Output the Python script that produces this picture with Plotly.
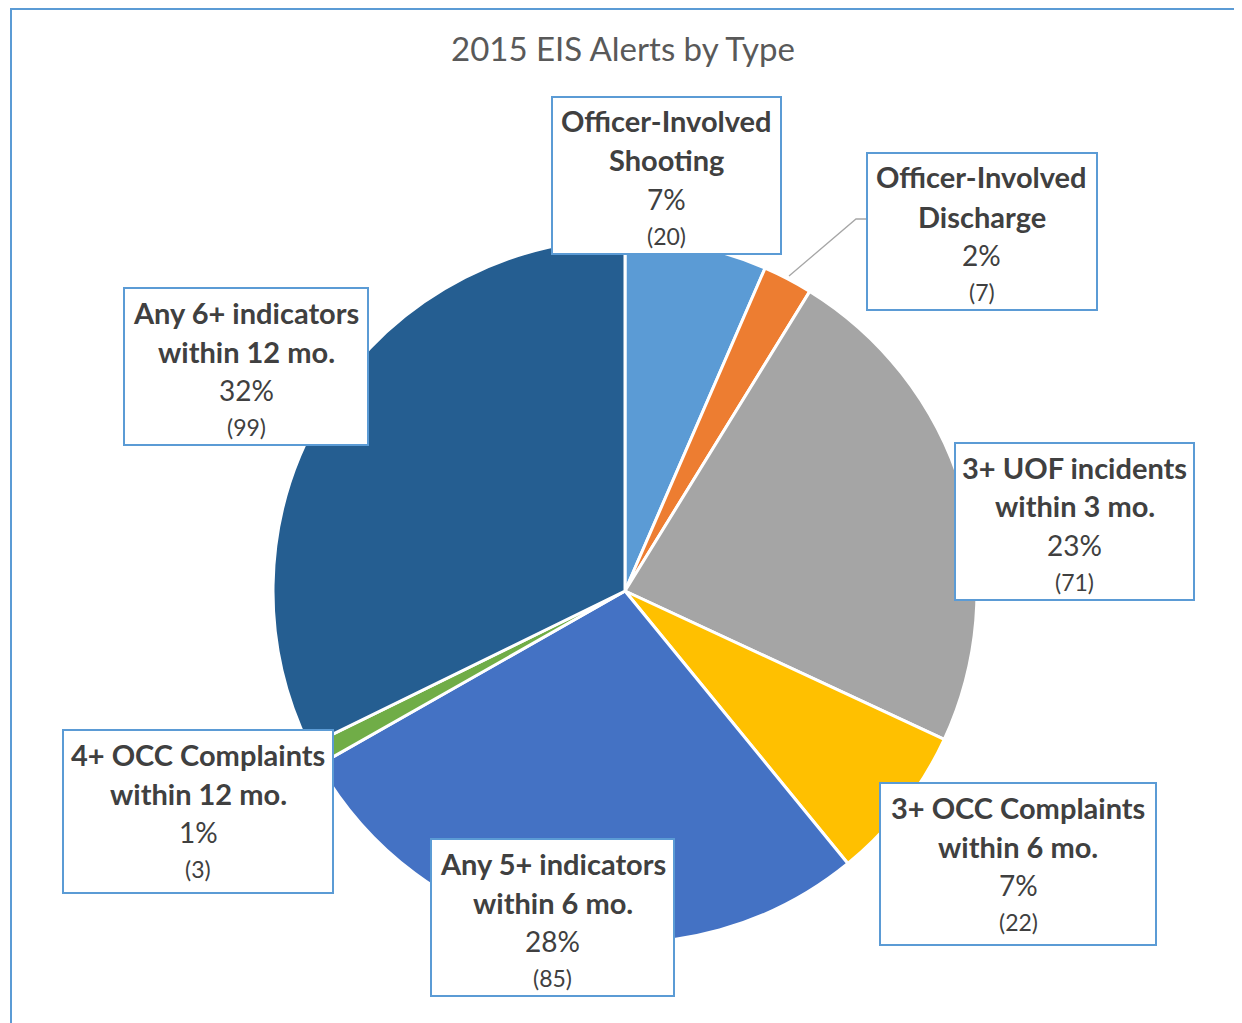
import plotly.graph_objects as go

# ---- data ----
categories = [
    "Officer-Involved Shooting",
    "Officer-Involved Discharge",
    "3+ UOF incidents within 3 mo.",
    "3+ OCC Complaints within 6 mo.",
    "Any 5+ indicators within 6 mo.",
    "4+ OCC Complaints within 12 mo.",
    "Any 6+ indicators within 12 mo.",
]
label_line1 = ["Officer-Involved", "Officer-Involved", "3+ UOF incidents", "3+ OCC Complaints",
               "Any 5+ indicators", "4+ OCC Complaints", "Any 6+ indicators"]
label_line2 = ["Shooting", "Discharge", "within 3 mo.", "within 6 mo.",
               "within 6 mo.", "within 12 mo.", "within 12 mo."]
values = [20, 7, 71, 22, 85, 3, 99]
colors = ["#5B9BD5", "#ED7D31", "#A5A5A5", "#FFC000", "#4472C4", "#70AD47", "#255E91"]

# ---- layout (screen pixel positions of label boxes: x0, x1, y0, y1) ----
OFF = 8  # page body margin
W, H = 1242 - OFF, 1023 - OFF
boxes = [
    (552, 781, 97, 254),
    (867, 1097, 153, 310),
    (955, 1194, 443, 600),
    (880, 1156, 783, 945),
    (431, 674, 839, 996),
    (63, 333, 730, 893),
    (124, 368, 288, 445),
]
cx, cy, r = 625, 591, 352

def px(x):
    return (x - OFF) / W

def py(y):
    return 1 - (y - OFF) / H

total = sum(values)
fig = go.Figure()
fig.add_trace(go.Pie(
    labels=categories, values=values, sort=False, direction="clockwise", rotation=0,
    marker=dict(colors=colors, line=dict(color="white", width=3)),
    textinfo="none", hoverinfo="label+value+percent", showlegend=False,
    domain=dict(x=[px(cx - r), px(cx + r)], y=[py(cy + r), py(cy - r)]),
))

shapes = []
annotations = []
# outer chart border
shapes.append(dict(type="rect", xref="paper", yref="paper", x0=px(11), x1=px(1236), y0=py(1040), y1=py(9),
                   line=dict(color="#5B9BD5", width=2), fillcolor="rgba(0,0,0,0)", layer="below"))
# leader line for discharge
shapes.append(dict(type="path", xref="paper", yref="paper",
                   path=f"M {px(789)} {py(276)} L {px(856)} {py(219)} L {px(867)} {py(219)}",
                   line=dict(color="#A6A6A6", width=1.3), layer="above"))

font_family = "Lato, 'Open Sans', sans-serif"
txt_color = "#404040"
for i, (x0, x1, y0, y1) in enumerate(boxes):
    shapes.append(dict(type="rect", xref="paper", yref="paper", x0=px(x0), x1=px(x1), y0=py(y1), y1=py(y0),
                       line=dict(color="#5B9BD5", width=2), fillcolor="white", layer="above"))
    xc = (x0 + x1) / 2
    pct = round(values[i] / total * 100)
    lines = [
        (f"<b>{label_line1[i]}</b>", 29, y0 + 24),
        (f"<b>{label_line2[i]}</b>", 29, y0 + 63),
        (f"{pct}%", 28, y0 + 102),
        (f"({values[i]})", 23, y0 + 139),
    ]
    for t, s, yy in lines:
        annotations.append(dict(xref="paper", yref="paper", x=px(xc), y=py(yy), text=t, showarrow=False,
                                xanchor="center", yanchor="middle",
                                font=dict(family=font_family, size=s, color=txt_color)))

annotations.append(dict(xref="paper", yref="paper", x=px(623), y=py(48), text="2015 EIS Alerts by Type",
                        showarrow=False, xanchor="center", yanchor="middle",
                        font=dict(family=font_family, size=33, color="#595959")))

fig.update_layout(width=W, height=H, margin=dict(l=0, r=0, t=0, b=0),
                  paper_bgcolor="white", plot_bgcolor="white",
                  shapes=shapes, annotations=annotations)
fig.write_html("out.html")
